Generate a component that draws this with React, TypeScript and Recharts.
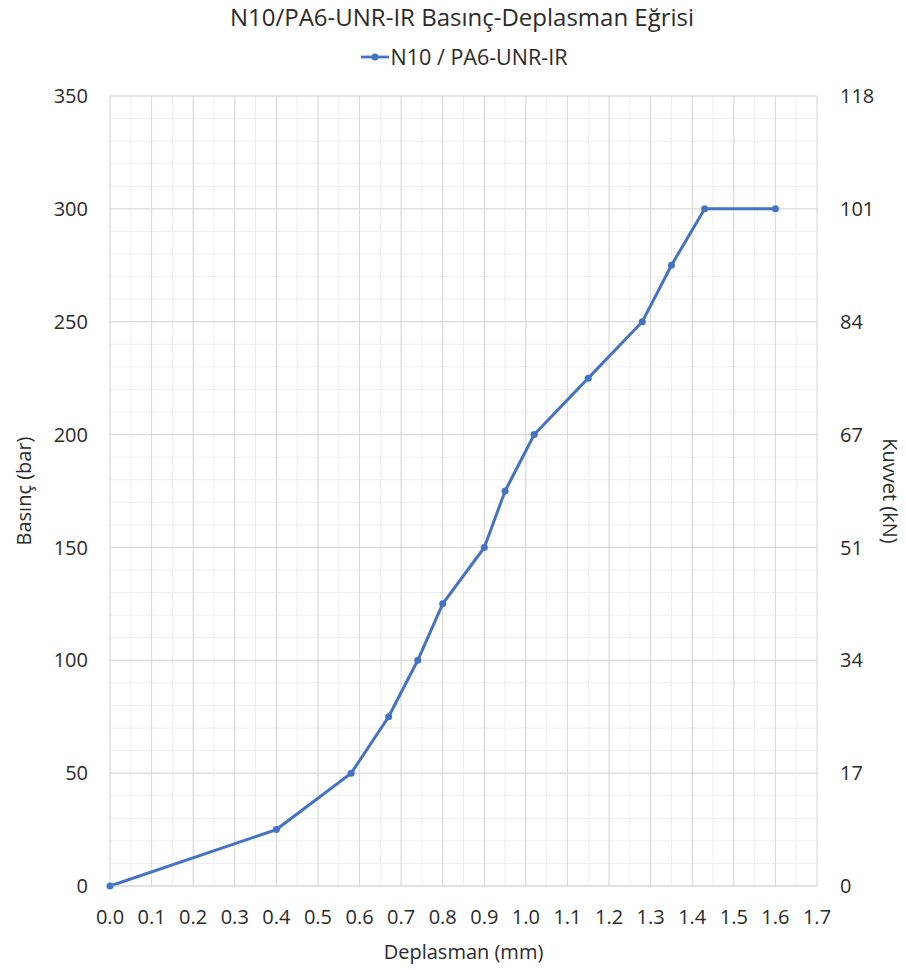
import React from 'react';
import {
    LineChart,
    Line,
    XAxis,
    YAxis,
    CartesianGrid,
    Label
} from 'recharts';

// Displacement (mm) vs pressure (bar)
const displacement = [0, 0.4, 0.58, 0.67, 0.74, 0.8, 0.9, 0.95, 1.02, 1.15, 1.28, 1.35, 1.43, 1.6];
const pressure = [0, 25, 50, 75, 100, 125, 150, 175, 200, 225, 250, 275, 300, 300];

const xTicks = [0, 0.1, 0.2, 0.3, 0.4, 0.5, 0.6, 0.7, 0.8, 0.9, 1.0, 1.1, 1.2, 1.3, 1.4, 1.5, 1.6, 1.7];
const pressureTicks = [0, 50, 100, 150, 200, 250, 300, 350];
// force labels (kN) shown against the same pressure gridlines
const forceTickLabels = ['0', '17', '34', '51', '67', '84', '101', '118'];

const SERIES_NAME = 'N10 / PA6-UNR-IR';
const BLUE = '#4472C4';
const FONT = '"Open Sans", sans-serif';
const TEXT = '#2b2b2b';

// minor grid every 0.05 mm and every 10 bar
const minorX: number[] = [];
for (let i = 0; i <= 34; i++) minorX.push(+(i * 0.05).toFixed(2));
const minorY: number[] = [];
for (let i = 0; i <= 35; i++) minorY.push(i * 10);

const data = displacement.map((x, i) => ({ x, p: pressure[i] }));

const tickStyle = { fill: TEXT, fontSize: 20, fontFamily: FONT };
const labelStyle = { fill: TEXT, fontSize: 20, fontFamily: FONT, textAnchor: 'middle' as const };

const App: React.FC = () => {
    return (
        <div style={{ position: 'relative', width: 906, height: 970, background: '#fff', fontFamily: FONT }}>
            <style>{'body{margin:0}'}</style>
            <div style={{ position: 'absolute', top: 0, left: 0, width: 924, textAlign: 'center', fontSize: 24, color: TEXT, lineHeight: '34px' }}>
                N10/PA6-UNR-IR Basınç-Deplasman Eğrisi
            </div>
            <div style={{ position: 'absolute', top: 43, left: 0, width: 928, display: 'flex', justifyContent: 'center', alignItems: 'center', fontSize: 21.5, color: TEXT, lineHeight: '28px' }}>
                <svg width={28} height={10} style={{ marginRight: 2 }}>
                    <line x1={0} y1={5} x2={28} y2={5} stroke={BLUE} strokeWidth={2.75} />
                    <circle cx={14} cy={5} r={3.5} fill={BLUE} />
                </svg>
                {SERIES_NAME}
            </div>
            <LineChart
                width={906}
                height={970}
                data={data}
                margin={{ top: 96, right: 0, bottom: 0, left: 0 }}
                style={{ position: 'absolute', top: 0, left: 0 }}
            >
                <CartesianGrid
                    yAxisId="left"
                    stroke="#eeeeee"
                    strokeWidth={1}
                    verticalValues={minorX}
                    horizontalValues={minorY}
                />
                <CartesianGrid
                    yAxisId="left"
                    stroke="#d9d9d9"
                    strokeWidth={1}
                    verticalValues={xTicks}
                    horizontalValues={pressureTicks}
                />
                <XAxis
                    dataKey="x"
                    type="number"
                    domain={[0, 1.7]}
                    ticks={xTicks}
                    tickFormatter={(v: number) => v.toFixed(1)}
                    height={84}
                    tickSize={0}
                    tickMargin={24}
                    tick={tickStyle}
                    axisLine={{ stroke: '#d9d9d9' }}
                    interval={0}
                >
                    <Label value="Deplasman (mm)" position="insideBottom" offset={11} style={labelStyle} />
                </XAxis>
                <YAxis
                    yAxisId="left"
                    type="number"
                    domain={[0, 350]}
                    ticks={pressureTicks}
                    width={110}
                    tickSize={0}
                    tickMargin={22}
                    tick={tickStyle}
                    axisLine={false}
                    interval={0}
                >
                    <Label value="Basınç (bar)" angle={-90} position="insideLeft" offset={24} style={labelStyle} />
                </YAxis>
                <YAxis
                    yAxisId="right"
                    orientation="right"
                    type="number"
                    domain={[0, 350]}
                    allowDataOverflow
                    ticks={pressureTicks}
                    tickFormatter={(v: number) => forceTickLabels[pressureTicks.indexOf(v)]}
                    width={89}
                    tickSize={0}
                    tickMargin={23}
                    tick={tickStyle}
                    axisLine={false}
                    interval={0}
                >
                    <Label value="Kuvvet (kN)" angle={90} position="insideRight" offset={16} style={labelStyle} />
                </YAxis>
                {/* same series on the secondary axis, kept invisible so the kN axis gets a domain */}
                <Line
                    yAxisId="right"
                    dataKey="p"
                    stroke="none"
                    dot={false}
                    activeDot={false}
                    legendType="none"
                    isAnimationActive={false}
                />
                <Line
                    yAxisId="left"
                    dataKey="p"
                    name={SERIES_NAME}
                    stroke={BLUE}
                    strokeWidth={3}
                    dot={{ r: 3.5, fill: BLUE, stroke: BLUE, strokeWidth: 0 }}
                    isAnimationActive={false}
                />
            </LineChart>
        </div>
    );
};

export default App;
